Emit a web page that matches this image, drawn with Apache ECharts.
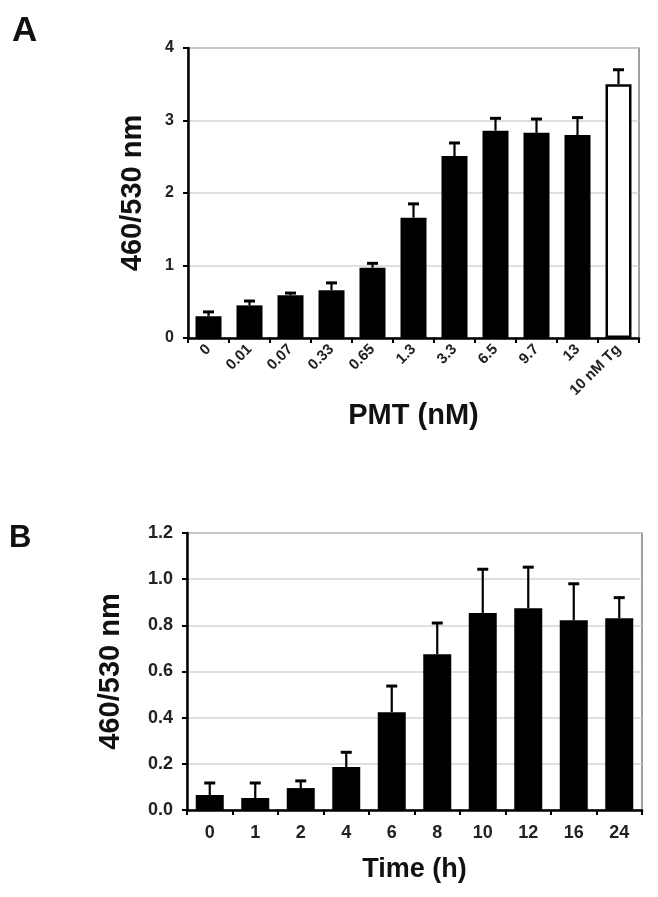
<!DOCTYPE html>
<html>
<head>
<meta charset="utf-8">
<script src="https://cdn.jsdelivr.net/npm/echarts@6/dist/echarts.min.js"></script>
<style>
  html, body { margin: 0; padding: 0; background: #fff; }
  #main { width: 658px; height: 897px; }
</style>
</head>
<body>
<div id="main"></div>
<script>
// panel A: PMT dose
var pmtLabels = ['0', '0.01', '0.07', '0.33', '0.65', '1.3', '3.3', '6.5', '9.7', '13', '10 nM Tg'];
var pmtMean = [0.30, 0.45, 0.59, 0.66, 0.97, 1.66, 2.51, 2.86, 2.83, 2.80, 3.50];
var pmtSd = [0.06, 0.06, 0.03, 0.10, 0.06, 0.19, 0.18, 0.17, 0.19, 0.24, 0.20];

// panel B: time course
var timeLabels = ['0', '1', '2', '4', '6', '8', '10', '12', '16', '24'];
var timeMean = [0.065, 0.052, 0.095, 0.186, 0.424, 0.675, 0.853, 0.874, 0.822, 0.831];
var timeSd = [0.052, 0.065, 0.031, 0.064, 0.113, 0.135, 0.19, 0.178, 0.158, 0.089];

var yTicksA = [0, 1, 2, 3, 4];
var yTicksB = [0, 0.2, 0.4, 0.6, 0.8, 1.0, 1.2];

var FONT = 'Liberation Sans';
var myChart = echarts.init(document.getElementById('main'));

function errorRender(params, api) {
    var top = api.coord([api.value(0), api.value(1) + api.value(2)]);
    var base = api.coord([api.value(0), api.value(1)]);
    var cap = 5.5;
    return {
        type: 'group',
        children: [
            { type: 'line', shape: { x1: base[0], y1: base[1], x2: top[0], y2: top[1] },
              style: { stroke: '#000', lineWidth: 2.2 } },
            { type: 'line', shape: { x1: top[0] - cap, y1: top[1], x2: top[0] + cap, y2: top[1] },
              style: { stroke: '#000', lineWidth: 3 } }
        ]
    };
}

function xAxisCommon(labels, gridIndex, name, opts) {
    return Object.assign({
        type: 'category',
        gridIndex: gridIndex,
        data: labels,
        name: name,
        nameLocation: 'middle',
        axisLine: { lineStyle: { color: '#000', width: 2.5 } },
        axisTick: { show: true, length: 5, lineStyle: { color: '#000', width: 2 } }
    }, opts);
}

function yAxisCommon(gridIndex, ticks, fmt, nameGap, labelSize) {
    return {
        type: 'value',
        gridIndex: gridIndex,
        min: ticks[0],
        max: ticks[ticks.length - 1],
        interval: ticks[1] - ticks[0],
        name: '460/530 nm',
        nameLocation: 'middle',
        nameGap: nameGap,
        nameTextStyle: { fontFamily: FONT, fontWeight: 'bold', fontSize: 29, color: '#111' },
        axisLine: { show: true, lineStyle: { color: '#000', width: 2.5 } },
        axisTick: { show: true, length: 5, inside: false, lineStyle: { color: '#000', width: 2 } },
        axisLabel: { fontFamily: FONT, fontWeight: 'bold', fontSize: labelSize, color: '#222', margin: 14, formatter: fmt },
        splitLine: { lineStyle: { color: '#d4d4d4', width: 1.5 } }
    };
}

var option = {
    backgroundColor: '#fff',
    animation: false,
    graphic: [
        { type: 'text', left: 12, top: 14, style: { text: 'A', font: 'bold 35px ' + FONT, fill: '#111' } },
        { type: 'text', left: 9, top: 523, style: { text: 'B', font: 'bold 31px ' + FONT, fill: '#111' } }
    ],
    grid: [
        { left: 188, top: 48, right: 19, bottom: 559, show: true, borderColor: '#808080', borderWidth: 1.5, backgroundColor: '#fff' },
        { left: 187, top: 533, right: 16, bottom: 87, show: true, borderColor: '#808080', borderWidth: 1.5, backgroundColor: '#fff' }
    ],
    xAxis: [
        xAxisCommon(pmtLabels, 0, 'PMT (nM)', {
            nameGap: 62,
            nameTextStyle: { fontFamily: FONT, fontWeight: 'bold', fontSize: 29, color: '#111' },
            axisLabel: { fontFamily: FONT, fontWeight: 'bold', fontSize: 15, color: '#222', rotate: 45, margin: 9, interval: 0 }
        }),
        xAxisCommon(timeLabels, 1, 'Time (h)', {
            nameGap: 46,
            nameTextStyle: { fontFamily: FONT, fontWeight: 'bold', fontSize: 27, color: '#111' },
            axisLabel: { fontFamily: FONT, fontWeight: 'bold', fontSize: 18, color: '#222', margin: 14, interval: 0 }
        })
    ],
    yAxis: [
        yAxisCommon(0, yTicksA, function (v) { return String(v); }, 41, 16),
        yAxisCommon(1, yTicksB, function (v) { return v.toFixed(1); }, 62, 18)
    ],
    series: [
        {
            type: 'bar',
            xAxisIndex: 0, yAxisIndex: 0,
            barWidth: 26,
            data: pmtMean.map(function (v, i) {
                var open = i === pmtMean.length - 1;
                return {
                    value: v,
                    itemStyle: {
                        color: open ? '#fff' : '#000',
                        borderColor: '#000',
                        borderWidth: open ? 2.5 : 0
                    }
                };
            })
        },
        {
            type: 'custom',
            xAxisIndex: 0, yAxisIndex: 0,
            renderItem: errorRender,
            encode: { x: 0, y: [1, 2] },
            z: 1,
            data: pmtMean.map(function (v, i) { return [i, v, pmtSd[i]]; })
        },
        {
            type: 'bar',
            xAxisIndex: 1, yAxisIndex: 1,
            barWidth: 28,
            itemStyle: { color: '#000' },
            data: timeMean
        },
        {
            type: 'custom',
            xAxisIndex: 1, yAxisIndex: 1,
            renderItem: errorRender,
            encode: { x: 0, y: [1, 2] },
            z: 1,
            data: timeMean.map(function (v, i) { return [i, v, timeSd[i]]; })
        }
    ]
};

myChart.setOption(option);
</script>
</body>
</html>
